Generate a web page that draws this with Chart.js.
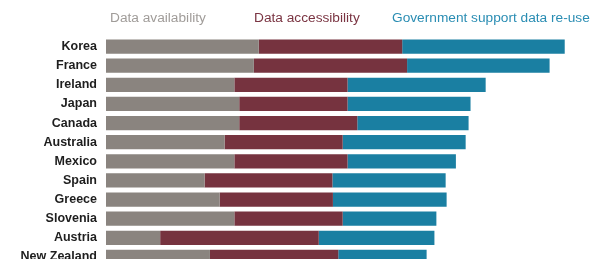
<!DOCTYPE html>
<html>
<head>
<meta charset="utf-8">
<script src="https://cdn.jsdelivr.net/npm/chart.js@4.4.0/dist/chart.umd.min.js"></script>
<style>
  html, body { margin: 0; padding: 0; background: #fff; overflow: hidden; }
  #wrap { position: relative; width: 594px; height: 275px; }
  #chart { position: absolute; left: 0; top: 0; }
  .key { position: absolute; top: 10px; font: 13.7px 'Liberation Sans', Arial, sans-serif; white-space: nowrap; line-height: 16px; }
</style>
</head>
<body>
<div id="wrap">
  <canvas id="chart" width="594" height="275"></canvas>
  <div id="legend"></div>
</div>
<script>
// OURdata index pillars by country
const countries = ['Korea', 'France', 'Ireland', 'Japan', 'Canada', 'Australia', 'Mexico',
    'Spain', 'Greece', 'Slovenia', 'Austria', 'New Zealand'];
const availability = [0.313, 0.303, 0.263, 0.273, 0.273, 0.243, 0.263, 0.202, 0.233, 0.263, 0.111, 0.213];
const accessibility = [0.294, 0.314, 0.232, 0.222, 0.242, 0.242, 0.232, 0.262, 0.232, 0.222, 0.325, 0.263];
const reuseSupport = [0.333, 0.292, 0.283, 0.252, 0.228, 0.252, 0.222, 0.232, 0.233, 0.192, 0.237, 0.181];

const seriesNames = ['Data availability', 'Data accessibility', 'Government support data re-use'];
const barColors = ['#8a847f', '#76333f', '#1a7fa2'];
const textColors = ['#a09c99', '#7a3442', '#2a8db3'];
const legendLeft = [110, 254, 392];

// Legend as plain text above the bars
const legendBox = document.getElementById('legend');
seriesNames.forEach((name, i) => {
    const s = document.createElement('span');
    s.className = 'key';
    s.style.left = legendLeft[i] + 'px';
    s.style.color = textColors[i];
    s.textContent = name;
    legendBox.appendChild(s);
});

const chartCanvas = document.getElementById('chart');

const myChart = new Chart(chartCanvas, {
    type: 'bar',
    data: {
        labels: countries,
        datasets: [availability, accessibility, reuseSupport].map((vals, i) => ({
            label: seriesNames[i],
            data: vals,
            backgroundColor: barColors[i],
            borderWidth: 0,
            categoryPercentage: 1,
            barPercentage: 0.74
        }))
    },
    options: {
        indexAxis: 'y',
        responsive: false,
        animation: false,
        layout: { padding: { top: 37, right: 0, bottom: 0, left: 0 } },
        scales: {
            x: {
                stacked: true,
                display: false,
                min: 0,
                max: 1
            },
            y: {
                stacked: true,
                grid: { display: false },
                border: { display: false },
                ticks: {
                    color: '#1e1e1e',
                    padding: 1,
                    font: { family: 'Liberation Sans, Arial, sans-serif', size: 12.5, weight: 'bold' }
                },
                afterFit: function(axis) { axis.width = 106; }
            }
        },
        plugins: {
            tooltip: { enabled: false },
            legend: { display: false }
        }
    }
});
</script>
</body>
</html>
